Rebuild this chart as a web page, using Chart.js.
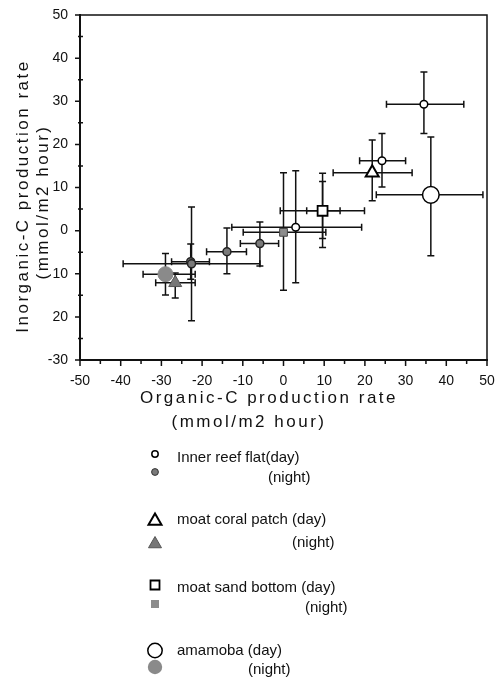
<!DOCTYPE html>
<html><head><meta charset="utf-8">
<script src="https://cdn.jsdelivr.net/npm/chart.js@4.4.1/dist/chart.umd.min.js"></script>
<style>html,body{margin:0;padding:0;background:#fff;}#wrap{position:relative;width:503px;height:677px;}</style>
</head><body><div id="wrap"><canvas id="c" width="503" height="677"></canvas></div>
<script>
// Each row: x, y, xLow, xHigh, yLow, yHigh
const innerReefDay = [[34.5,29.3,25.3,44.3,22.5,36.8],[24.2,16.2,18.7,30.0,10.1,22.5],[3.0,0.8,-12.7,19.2,-12.1,13.9]];
const innerReefNight = [[-5.8,-3.0,-10.6,-1.2,-8.2,2.0],[-13.9,-4.9,-18.9,-9.1,-10.0,0.6],[-22.8,-7.2,-27.5,-18.2,-11.3,-3.1],[-22.6,-7.7,-39.4,-5.8,-20.9,5.5]];
const coralDay = [[21.8,13.4,12.2,31.6,6.9,21.0]];
const coralNight = [[-26.6,-12.1,-31.4,-21.7,-15.6,-9.8]];
const sandDay = [[9.6,4.6,-0.8,19.9,-3.9,13.3]];
const sandDayInner = [[9.6,4.6,5.7,13.9,-1.8,11.4]];
const sandNight = [[0.0,-0.4,-9.9,10.4,-13.8,13.4]];
const amamobaDay = [[36.2,8.3,22.8,49.0,-5.8,21.7]];
const amamobaNight = [[-29.0,-10.1,-34.5,-21.7,-14.9,-5.3]];
const xTickValues = [-50,-40,-30,-20,-10,0,10,20,30,40,50];
const yTickValues = [-30,-20,-10,0,10,20,30,40,50];
const yTickLabels = ['-30','20','10','0','10','20','30','40','50'];
const xTitle = ['Organic-C production rate','(mmol/m2 hour)'];
const yTitle = ['Inorganic-C production rate','(mmol/m2 hour)'];
const legendLabels = ['Inner reef flat(day)','(night)','moat coral patch (day)','(night)','moat sand bottom (day)','(night)','amamoba (day)','(night)'];

const FONT = "'Liberation Sans', Arial, Helvetica, sans-serif";
const GRAY = '#8a8a8a';

function mk(rows, style, extra) {
  const err = rows.map(r => [r.slice(2)]);
  if (extra) extra.forEach((r, i) => err[i].push(r.slice(2)));
  return Object.assign({ data: rows.map(r => ({x: r[0], y: r[1]})), err: err, showLine: false }, style);
}

const datasets = [
  mk(innerReefDay, {label: legendLabels[0], pointStyle:'circle', pointRadius:3.8, backgroundColor:'#fff', borderColor:'#000', borderWidth:1.5}),
  mk(innerReefNight, {label: legendLabels[1], pointStyle:'circle', pointRadius:4, backgroundColor:'#7a7a7a', borderColor:'#222', borderWidth:1.5}),
  mk(coralDay, {label: legendLabels[2], pointStyle:'triangle', pointRadius:7.5, backgroundColor:'#fff', borderColor:'#000', borderWidth:2}),
  mk(coralNight, {label: legendLabels[3], pointStyle:'triangle', pointRadius:7.5, backgroundColor:'#777', borderColor:'#555', borderWidth:1}),
  mk(sandDay, {label: legendLabels[4], pointStyle:'rect', pointRadius:7, backgroundColor:'#fff', borderColor:'#000', borderWidth:1.8}, sandDayInner),
  mk(sandNight, {label: legendLabels[5], pointStyle:'rect', pointRadius:5.5, backgroundColor:'#8c8c8c', borderColor:'#444', borderWidth:1}),
  mk(amamobaDay, {label: legendLabels[6], pointStyle:'circle', pointRadius:8.3, backgroundColor:'#fff', borderColor:'#000', borderWidth:1.5}),
  mk(amamobaNight, {label: legendLabels[7], pointStyle:'circle', pointRadius:7.5, backgroundColor:GRAY, borderColor:GRAY, borderWidth:1})
];

const errorBars = {
  id: 'errorBars',
  beforeDatasetsDraw(chart) {
    const ctx = chart.ctx, xs = chart.scales.x, ys = chart.scales.y;
    ctx.save();
    ctx.strokeStyle = '#111'; ctx.lineWidth = 1.5; ctx.lineCap = 'butt';
    const cap = 3.5;
    chart.data.datasets.forEach(ds => {
      ds.data.forEach((p, i) => {
        const px = xs.getPixelForValue(p.x), py = ys.getPixelForValue(p.y);
        ds.err[i].forEach(e => {
          const x0 = xs.getPixelForValue(e[0]), x1 = xs.getPixelForValue(e[1]);
          const y0 = ys.getPixelForValue(e[2]), y1 = ys.getPixelForValue(e[3]);
          ctx.beginPath();
          ctx.moveTo(x0, py); ctx.lineTo(x1, py);
          ctx.moveTo(x0, py - cap); ctx.lineTo(x0, py + cap);
          ctx.moveTo(x1, py - cap); ctx.lineTo(x1, py + cap);
          ctx.moveTo(px, y0); ctx.lineTo(px, y1);
          ctx.moveTo(px - cap, y0); ctx.lineTo(px + cap, y0);
          ctx.moveTo(px - cap, y1); ctx.lineTo(px + cap, y1);
          ctx.stroke();
        });
      });
    });
    ctx.restore();
  }
};

function drawMarker(ctx, style, x, y, r, fill, stroke, lw) {
  ctx.save();
  ctx.fillStyle = fill; ctx.strokeStyle = stroke; ctx.lineWidth = lw;
  ctx.beginPath();
  if (style === 'circle') ctx.arc(x, y, r, 0, Math.PI * 2);
  else if (style === 'triangle') {
    ctx.moveTo(x, y - r); ctx.lineTo(x + r * 0.866, y + r * 0.5); ctx.lineTo(x - r * 0.866, y + r * 0.5); ctx.closePath();
  } else if (style === 'rect') { ctx.rect(x - r, y - r, 2 * r, 2 * r); }
  ctx.fill(); if (lw > 0) ctx.stroke();
  ctx.restore();
}

const decor = {
  id: 'decor',
  afterDraw(chart) {
    const ctx = chart.ctx, a = chart.chartArea, xs = chart.scales.x, ys = chart.scales.y;
    ctx.save();
    // frame top and right
    ctx.strokeStyle = '#111'; ctx.lineWidth = 1.5;
    ctx.beginPath();
    ctx.moveTo(a.left, a.top); ctx.lineTo(a.right, a.top); ctx.lineTo(a.right, a.bottom);
    ctx.stroke();
    // tick marks
    ctx.lineWidth = 1.5;
    ctx.beginPath();
    for (let v = -50; v <= 50; v += 5) {
      const px = xs.getPixelForValue(v);
      const len = (v % 10 === 0) ? 6 : 4;
      ctx.moveTo(px, a.bottom); ctx.lineTo(px, a.bottom + len);
    }
    for (let v = -30; v <= 50; v += 5) {
      const py = ys.getPixelForValue(v);
      if (v % 10 === 0) { ctx.moveTo(a.left - 5, py); ctx.lineTo(a.left, py); }
      else { ctx.moveTo(a.left - 2, py); ctx.lineTo(a.left + 3, py); }
    }
    ctx.stroke();
    // axis titles
    ctx.fillStyle = '#111';
    ctx.font = '17px ' + FONT;
    ctx.letterSpacing = '2.5px';
    ctx.textAlign = 'center'; ctx.textBaseline = 'alphabetic';
    ctx.fillText(xTitle[0], 269, 403);
    ctx.fillText(xTitle[1], 249, 427);
    ctx.save();
    ctx.translate(28, 196); ctx.rotate(-Math.PI / 2);
    ctx.fillText(yTitle[0], 0, 0);
    ctx.restore();
    ctx.save();
    ctx.translate(48, 202); ctx.rotate(-Math.PI / 2);
    ctx.fillText(yTitle[1], 0, 0);
    ctx.restore();
    // legend
    ctx.letterSpacing = '0px';
    ctx.font = '15px ' + FONT;
    ctx.textAlign = 'left'; ctx.textBaseline = 'middle';
    const mx = 155;
    drawMarker(ctx, 'circle', mx, 454, 3.2, '#fff', '#000', 1.5);
    drawMarker(ctx, 'circle', mx, 472, 3.4, '#7a7a7a', '#333', 1);
    drawMarker(ctx, 'triangle', mx, 521, 7.5, '#fff', '#000', 2);
    drawMarker(ctx, 'triangle', mx, 544, 7.5, '#777', '#555', 1);
    drawMarker(ctx, 'rect', mx, 585, 4.5, '#fff', '#000', 1.8);
    drawMarker(ctx, 'rect', mx, 604, 4, '#8c8c8c', '#8c8c8c', 0);
    drawMarker(ctx, 'circle', mx, 650.5, 7.2, '#fff', '#000', 1.5);
    drawMarker(ctx, 'circle', mx, 667, 7.2, GRAY, GRAY, 0);
    ctx.fillText(legendLabels[0], 177, 458);
    ctx.fillText(legendLabels[1], 268, 478);
    ctx.fillText(legendLabels[2], 177, 520);
    ctx.fillText(legendLabels[3], 292, 543);
    ctx.fillText(legendLabels[4], 177, 588);
    ctx.fillText(legendLabels[5], 305, 608);
    ctx.fillText(legendLabels[6], 177, 651);
    ctx.fillText(legendLabels[7], 248, 670);
    ctx.restore();
  }
};

new Chart(document.getElementById('c'), {
  type: 'scatter',
  data: { datasets: datasets },
  options: {
    responsive: false,
    animation: false,
    devicePixelRatio: 1,
    layout: { padding: { left: 0, top: 15, right: 16, bottom: 277 } },
    plugins: { legend: { display: false }, tooltip: { enabled: false } },
    elements: { point: { hoverRadius: 0 } },
    scales: {
      x: {
        type: 'linear', min: -50, max: 50,
        afterFit: s => { s.height = 40; s.paddingLeft = 0; s.paddingRight = 0; },
        afterBuildTicks: s => { s.ticks = xTickValues.map(v => ({ value: v })); },
        grid: { display: false, drawTicks: false },
        border: { display: true, color: '#111', width: 2 },
        ticks: { color: '#111', padding: 13, font: { family: FONT, size: 14 }, callback: v => String(v) }
      },
      y: {
        type: 'linear', min: -30, max: 50,
        afterFit: s => { s.width = 80; s.paddingTop = 0; s.paddingBottom = 0; },
        afterBuildTicks: s => { s.ticks = yTickValues.map(v => ({ value: v })); },
        grid: { display: false, drawTicks: false },
        border: { display: true, color: '#111', width: 2 },
        ticks: { color: '#111', padding: 12, font: { family: FONT, size: 14 },
          callback: v => { const i = yTickValues.indexOf(v); return i >= 0 ? yTickLabels[i] : ''; } }
      }
    }
  },
  plugins: [errorBars, decor]
});
</script></body></html>
